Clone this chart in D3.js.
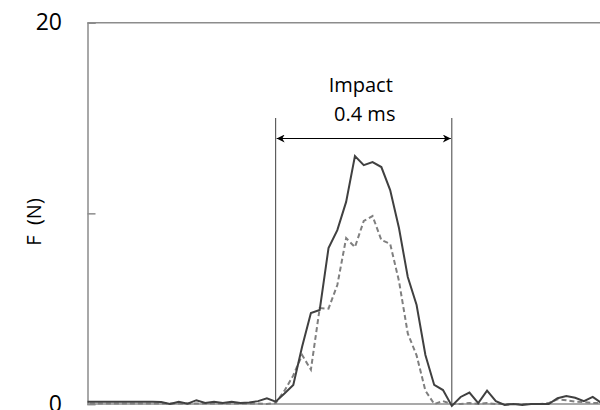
<!DOCTYPE html>
<html>
<head>
<meta charset="utf-8">
<script src="https://cdn.jsdelivr.net/npm/d3@7"></script>
<style>
  body { margin: 0; background: #fff; }
  svg { display: block; font-family: "Open Sans", sans-serif; }
</style>
</head>
<body>
<svg id="chart"></svg>
<script>
// sampling grid: 0.02 ms steps, t = 0 at impact start
var sampleIndex = d3.range(-22, 38);
var dt = 0.02;

// force (N), solid trace
var forceSolid = [
  0.12, 0.12, 0.12, 0.12, 0.12, 0.12, 0.12, 0.12, 0.12,
  0.1, 0.0, 0.12, 0.02, 0.2, 0.05, 0.12, 0.05, 0.12, 0.05, 0.08, 0.15, 0.3,
  0.12, 0.55, 1.0, 3.0, 4.77, 4.93, 8.18, 9.12, 10.6, 13.0, 12.53, 12.69, 12.43,
  11.22, 9.23, 6.66, 5.19, 2.57, 1.0, 0.73, -0.1,
  0.37, 0.6, 0.05, 0.7, 0.15, -0.05, 0.0, -0.05, 0.0, 0.0, 0.0, 0.3, 0.42, 0.33, 0.15, 0.37, 0.05
];

// force (N), dashed trace
var forceDashed = [
  0.03, 0.03, 0.03, 0.03, 0.03, 0.03, 0.03, 0.03, 0.03,
  0.03, 0.03, 0.03, 0.03, 0.03, 0.03, 0.03, 0.03, 0.03, 0.03, 0.03, 0.03, 0.0,
  0.05, 0.7, 1.5, 2.57, 1.8, 5.03, 5.0, 6.24, 8.7, 8.23, 9.6, 9.86, 8.6,
  8.4, 6.45, 3.7, 2.55, 0.7, 0.0, 0.15, 0.0,
  0.0, 0.05, 0.0, 0.05, 0.0, 0.0, 0.0, 0.0, 0.0, 0.0, 0.05, 0.25, 0.2, 0.12, 0.1, 0.05, 0.05
];

var yTicks = [0, 10, 20];
var yTickLabels = ["0", "", "20"];
var impactWindow = [0, 0.4];
var impactLabel = ["Impact", "0.4 ms"];

var width = 600, height = 410;
var margin = {top: 22.7, right: -20, bottom: 6, left: 87.5};

var svg = d3.select("#chart")
  .attr("width", width)
  .attr("height", height);

var x = d3.scaleLinear()
  .domain([-0.4273, 0.7364 + 0.0455])
  .range([margin.left, width - margin.right]);

var y = d3.scaleLinear()
  .domain([0, 20])
  .range([height - margin.bottom, margin.top]);

var defs = svg.append("defs");
defs.append("clipPath").attr("id", "plotclip")
  .append("rect")
  .attr("x", margin.left)
  .attr("y", 0)
  .attr("width", width - margin.left)
  .attr("height", height);

["start", "end"].forEach(function (k) {
  defs.append("marker")
    .attr("id", "arrow-" + k)
    .attr("viewBox", "0 0 10 10")
    .attr("refX", k == "end" ? 10 : 0)
    .attr("refY", 5)
    .attr("markerWidth", 9)
    .attr("markerHeight", 8)
    .attr("markerUnits", "userSpaceOnUse")
    .attr("orient", "auto")
    .append("path")
    .attr("d", k == "end" ? "M0,0 L10,5 L0,10 L3,5 Z" : "M10,0 L0,5 L10,10 L7,5 Z")
    .attr("fill", "#000");
});

// frame: top line + left axis + bottom axis
svg.append("line")
  .attr("x1", margin.left).attr("x2", width)
  .attr("y1", y(20)).attr("y2", y(20))
  .attr("stroke", "#8c8c8c").attr("stroke-width", 1.5);

svg.append("line")
  .attr("x1", margin.left).attr("x2", width)
  .attr("y1", y(0)).attr("y2", y(0))
  .attr("stroke", "#8c8c8c").attr("stroke-width", 1.5);

var yAxis = d3.axisRight(y)
  .tickValues(yTicks)
  .tickSize(8)
  .tickFormat("");

var gy = svg.append("g")
  .attr("transform", "translate(" + margin.left + ",0)")
  .call(yAxis);
gy.select(".domain").attr("stroke", "#8c8c8c").attr("stroke-width", 1.5);
gy.selectAll(".tick line").attr("stroke", "#8c8c8c").attr("stroke-width", 1.5);

// labels sit just below their tick (the "0" runs off the bottom, as in the source)
svg.selectAll(".ylab")
  .data(yTicks)
  .enter()
  .append("text")
  .attr("class", "ylab")
  .attr("x", 62)
  .attr("y", function (d) { return y(d) + 7.5; })
  .attr("text-anchor", "end")
  .attr("font-size", 23)
  .attr("fill", "#000")
  .text(function (d, i) { return yTickLabels[i]; });

svg.append("text")
  .attr("transform", "translate(41,222) rotate(-90)")
  .attr("text-anchor", "middle")
  .attr("font-size", 20)
  .attr("fill", "#000")
  .attr("xml:space", "preserve")
  .text("F  (N)");

// impact window markers
svg.selectAll(".vline")
  .data(impactWindow)
  .enter()
  .append("line")
  .attr("class", "vline")
  .attr("x1", function (d) { return x(d); })
  .attr("x2", function (d) { return x(d); })
  .attr("y1", 118)
  .attr("y2", y(0))
  .attr("stroke", "#404040")
  .attr("stroke-width", 1);

svg.append("line")
  .attr("x1", x(impactWindow[0]) + 1).attr("x2", x(impactWindow[1]) - 1)
  .attr("y1", 138.5).attr("y2", 138.5)
  .attr("stroke", "#000").attr("stroke-width", 1)
  .attr("marker-start", "url(#arrow-start)")
  .attr("marker-end", "url(#arrow-end)");

var mid = (x(impactWindow[0]) + x(impactWindow[1])) / 2;
svg.selectAll(".impact")
  .data(impactLabel)
  .enter()
  .append("text")
  .attr("class", "impact")
  .attr("x", function (d, i) { return i == 0 ? mid - 3 : mid + 1; })
  .attr("y", function (d, i) { return 92 + i * 29; })
  .attr("text-anchor", "middle")
  .attr("font-size", 20)
  .attr("fill", "#000")
  .text(function (d) { return d; });

// traces
var data = sampleIndex.map(function (k, i) {
  return {t: k * dt, solid: forceSolid[i], dashed: forceDashed[i]};
});

var plot = svg.append("g").attr("clip-path", "url(#plotclip)");

var lineDashed = d3.line()
  .x(function (d) { return x(d.t); })
  .y(function (d) { return y(d.dashed); });

var lineSolid = d3.line()
  .x(function (d) { return x(d.t); })
  .y(function (d) { return y(d.solid); });

plot.append("path")
  .datum(data)
  .attr("d", lineDashed)
  .attr("fill", "none")
  .attr("stroke", "#7f7f7f")
  .attr("stroke-width", 2)
  .attr("stroke-dasharray", "5,3");

plot.append("path")
  .datum(data)
  .attr("d", lineSolid)
  .attr("fill", "none")
  .attr("stroke", "#404040")
  .attr("stroke-width", 2)
  .attr("stroke-linejoin", "miter");
</script>
</body>
</html>
